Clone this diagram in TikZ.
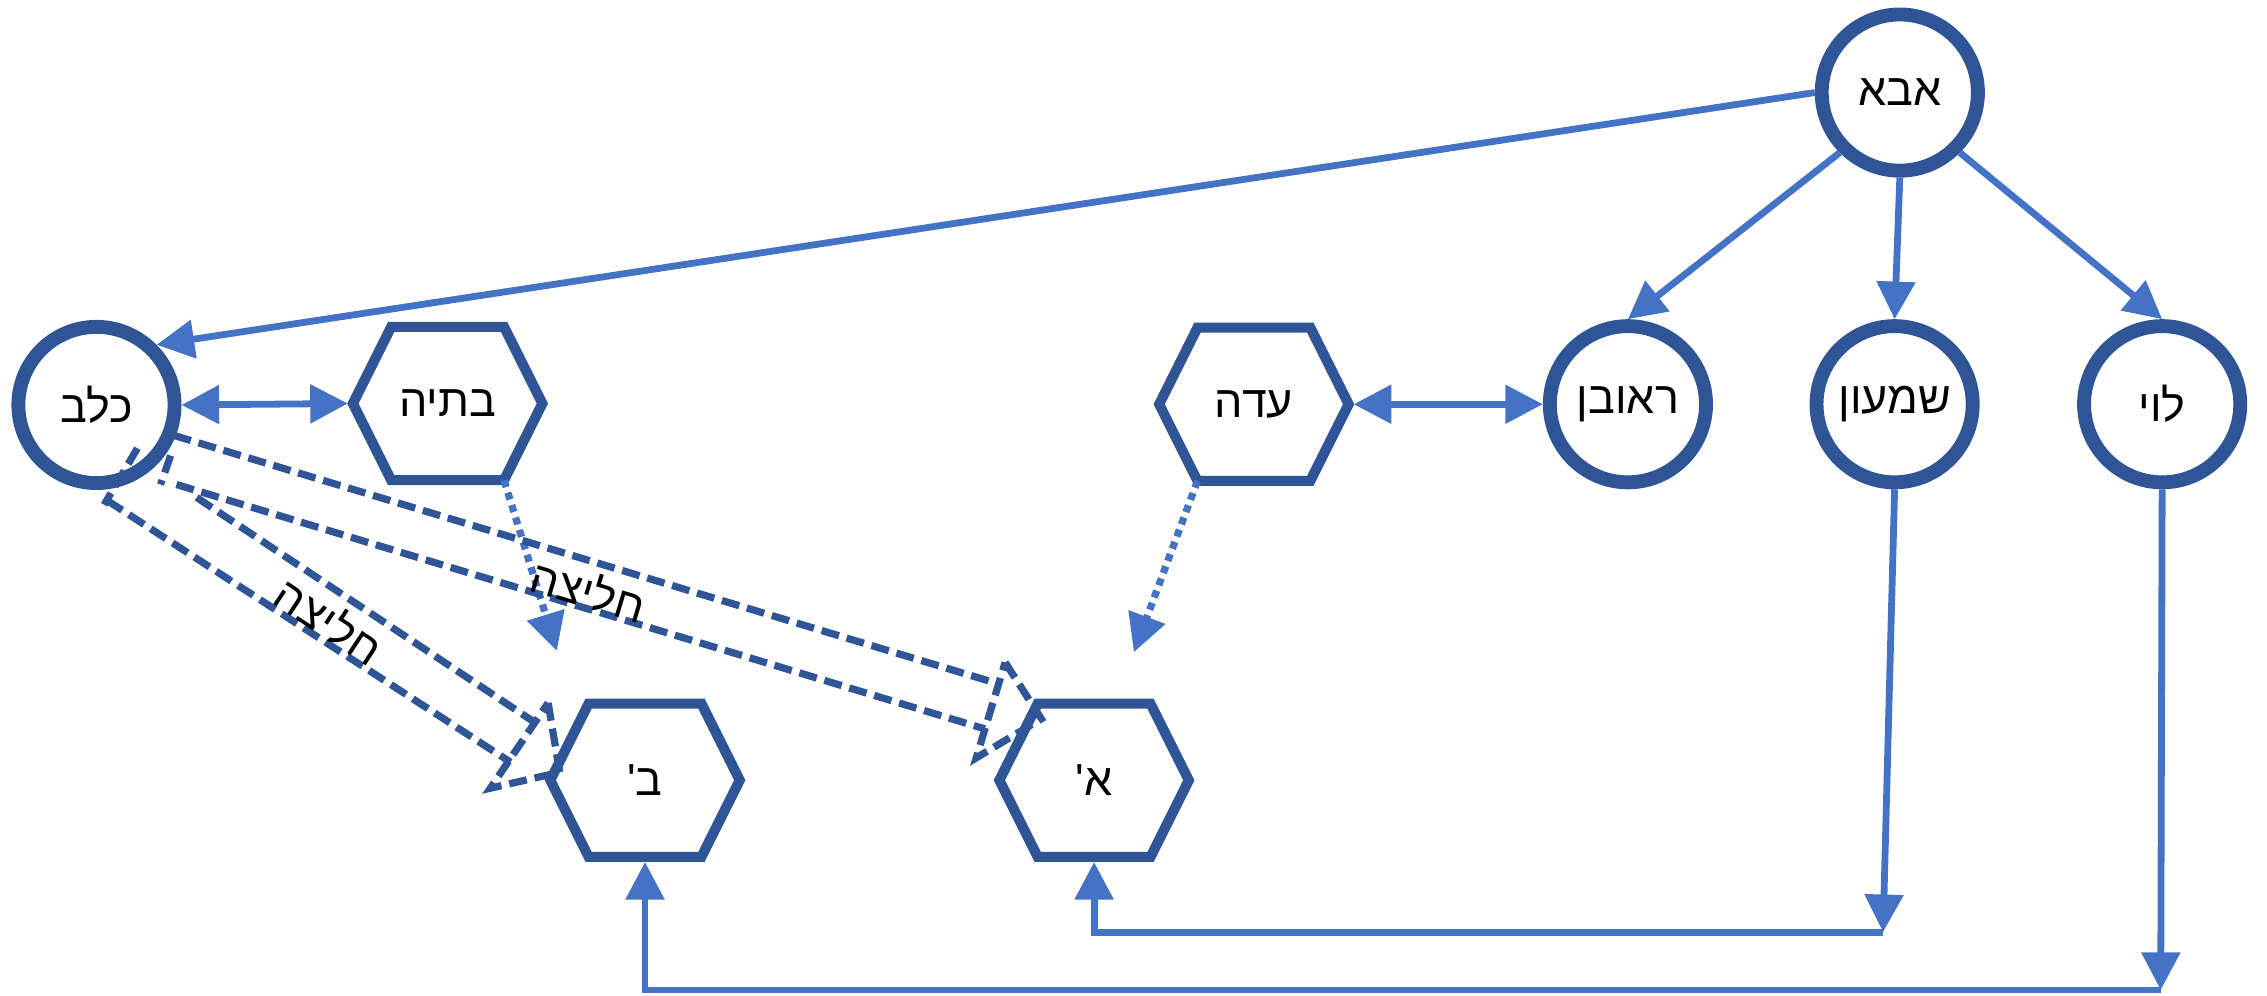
\documentclass[tikz,border=0pt]{standalone}
\usepackage{fontspec}
\setmainfont{Liberation Sans}
\newfontfamily\hebfont[Script=Hebrew,Ligatures=TeXOff]{Liberation Sans}
\TeXXeTstate=1
\usetikzlibrary{arrows.meta,calc}
\definecolor{dkblue}{HTML}{2F5597}
\definecolor{ltblue}{HTML}{4472C4}
\newcommand\hebtxt[1]{{\hebfont\beginR #1\endR}}
\newcommand\hexout[1]{\draw[hexline] ($(#1)+(-65.5,0)$) -- ($(#1)+(-39,-53)$) -- ($(#1)+(39,-53)$) -- ($(#1)+(65.5,0)$) -- ($(#1)+(39,53)$) -- ($(#1)+(-39,53)$) -- cycle;}
\tikzset{
  circ/.style={circle, draw=dkblue, line width=9.6pt, minimum size=108pt, inner sep=0pt, fill=white, text=black, font=\fontsize{31}{37}\selectfont},
  hexnode/.style={rectangle, draw=none, minimum width=138pt, minimum height=113pt, inner sep=0pt, outer sep=0pt, text=black, font=\fontsize{31}{37}\selectfont},
  hexline/.style={draw=dkblue, line width=7pt, line join=miter},
  arr/.style={draw=ltblue, line width=4.7pt, -{Triangle[length=26pt,width=26pt]}},
  dbl/.style={draw=ltblue, line width=4.7pt, {Triangle[length=26pt,width=26pt]}-{Triangle[length=26pt,width=26pt]}},
  dotarr/.style={draw=ltblue, line width=5pt, dash pattern=on 5pt off 4pt, -{Triangle[length=26pt,width=26pt]}},
  dashedge/.style={draw=dkblue, line width=5pt, dash pattern=on 12.5pt off 5.5pt},
  dashhead/.style={draw=dkblue, line width=5pt, dash pattern=on 12.5pt off 5.5pt, line join=miter},
  lbl/.style={inner sep=0pt, text=black, font=\fontsize{31}{37}\selectfont}
}
\begin{document}
\begin{tikzpicture}[x=1pt,y=-1pt]
\useasboundingbox (0,0) rectangle (1567.5,688);
% nodes
\node[circ] (abba) at (1313.6,64) {\hebtxt{אבא}};
\node[circ] (reuven) at (1125.6,279.5) {\hebtxt{ראובן}};
\node[circ] (shimon) at (1310,279.5) {\hebtxt{שמעון}};
\node[circ] (levi) at (1495,279.5) {\hebtxt{לוי}};
\node[circ] (kalev) at (66.7,280) {\hebtxt{כלב}};
\node[hexnode] (batya) at (309.5,279) {\hebtxt{בתיה}};
\node[hexnode] (ada) at (867,279.5) {\hebtxt{עדה}};
\node[hexnode] (bet) at (446,539.5) {\hebtxt{ב'}};
\node[hexnode] (alef) at (756.5,539.5) {\hebtxt{א'}};
\hexout{batya}
\hexout{ada}
\hexout{bet}
\hexout{alef}
% solid connectors
\draw[arr] (abba.west) -- (kalev.north east);
\draw[arr] (abba.south west) -- (reuven.north);
\draw[arr] (abba.south) -- (shimon.north);
\draw[arr] (abba.south east) -- (levi.north);
\draw[dbl] (kalev.east) -- (batya.west);
\draw[dbl] (ada.east) -- (reuven.west);
% dotted connectors
\coordinate (bt) at ($(batya)+(39,53)$);
\coordinate (btend) at (385,450);
\draw[dotarr] (bt) -- (btend);
\coordinate (ad) at ($(ada)+(-39,53)$);
\coordinate (adend) at (784,451);
\draw[dotarr] (ad) -- (adend);
% bottom routes
\coordinate (s1) at (1302,644.5);
\draw[arr] (shimon.south) -- (s1);
\draw[arr] (s1) -| (alef.south);
\coordinate (s2) at (1494,684.5);
\draw[arr] (levi.south) -- (s2);
\draw[arr] (s2) -| (bet.south);
% dashed connectors
\coordinate (a1) at (120,301); \coordinate (a2) at (691,473);
\coordinate (b1) at (122,335); \coordinate (b2) at (681,504);
\coordinate (c1) at (136,344); \coordinate (c2) at (372,501);
\coordinate (d1) at (74,346);  \coordinate (d2) at (353,527);
\draw[dashedge] (a1) -- (a2);
\draw[dashedge] (b1) -- (b2);
\draw[dashedge] (c1) -- (c2);
\draw[dashedge] (d1) -- (d2);
% dashed open heads
\coordinate (ha1) at (695,458); \coordinate (ha2) at (720,497); \coordinate (ha3) at (675,524);
\draw[dashhead] (ha1) -- (ha2) -- (ha3) -- cycle;
\coordinate (hb1) at (379,486); \coordinate (hb2) at (387,534); \coordinate (hb3) at (339,545);
\draw[dashhead] (hb1) -- (hb2) -- (hb3) -- cycle;
\coordinate (hk1) at (95,310); \coordinate (hk2) at (72,349);
\coordinate (hk3) at (118,315); \coordinate (hk4) at (111,335);
\draw[dashhead] (hk1) -- (hk2);
\draw[dashhead] (hk3) -- (hk4);
% labels
\node[lbl, rotate=-33.5] (l1) at (228,429) {\hebtxt{חליצה}};
\node[lbl, rotate=-16.7] (l2) at (407,408) {\hebtxt{חליצה}};
\end{tikzpicture}
\end{document}
